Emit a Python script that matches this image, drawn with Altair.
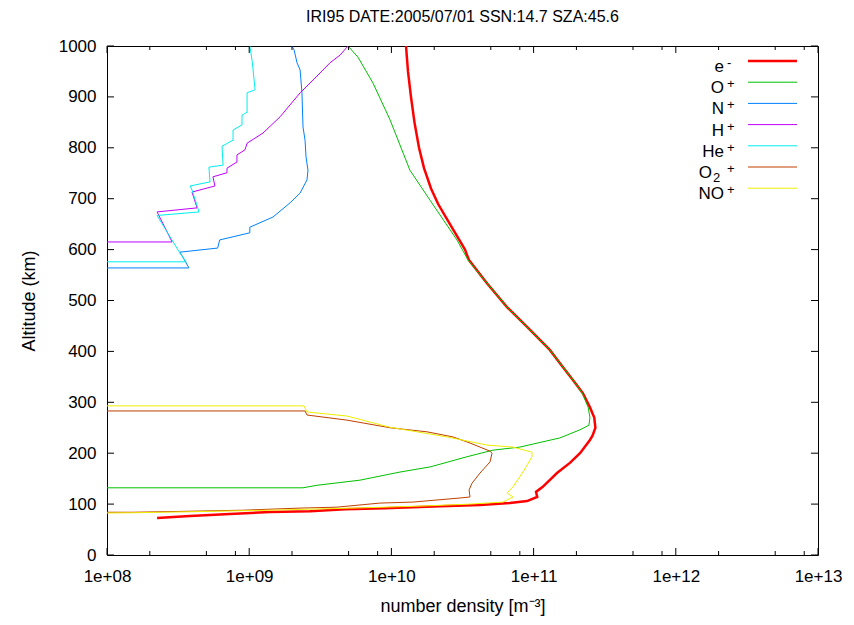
import altair as alt
import pandas as pd

FONT = "Liberation Sans"

# ---- data (altitude km, number density m^-3) ----
E_ALT = [1000, 950, 900, 850, 800, 760, 720, 690, 660, 630, 600, 580, 534, 487, 448, 403,
         369, 344, 318, 290, 270, 250, 235, 226, 200, 181, 161, 134, 124, 114, 106, 102,
         98, 96, 92, 90, 86, 84.5, 80.6, 76.6, 72.7]
E_DEN = [1.267e10, 1.308e10, 1.373e10, 1.453e10, 1.564e10, 1.696e10, 1.899e10, 2.127e10,
         2.46e10, 2.847e10, 3.293e10, 3.5e10, 4.7e10, 6.5e10, 9.0e10, 1.30e11, 1.61e11,
         1.89e11, 2.22e11, 2.49e11, 2.67e11, 2.72e11, 2.60e11, 2.49e11, 2.12e11, 1.80e11,
         1.46e11, 1.16e11, 1.04e11, 1.06e11, 9.0e10, 6.8e10, 4.2e10, 2.2e10, 9.0e9, 4.72e9,
         2.68e9, 1.40e9, 7.3e8, 3.84e8, 2.25e8]

OP_ALT = [1000, 978, 927, 855, 756, 697, 619, 580, 534, 487, 448, 403, 369, 344, 318, 290,
          270, 255, 246, 230, 212, 206, 193, 173, 163, 147, 137, 132, 132]
OP_DEN = [4.95e9, 5.82e9, 7.43e9, 9.78e9, 1.35e10, 1.87e10, 2.89e10, 3.45e10, 4.7e10, 6.5e10,
          9.0e10, 1.30e11, 1.61e11, 1.89e11, 2.20e11, 2.42e11, 2.49e11, 2.45e11, 2.12e11,
          1.53e11, 8.0e10, 5.18e10, 3.40e10, 1.87e10, 1.15e10, 6.0e9, 3.0e9, 2.39e9, 1e8]

NP_ALT = [1000, 992, 967, 953, 908, 841, 815, 782, 756, 737, 711, 692, 664, 644, 633, 619,
          603, 595, 564, 564]
NP_DEN = [2.0e9, 2.07e9, 2.17e9, 2.28e9, 2.35e9, 2.39e9, 2.47e9, 2.51e9, 2.59e9, 2.55e9,
          2.28e9, 1.94e9, 1.47e9, 1.01e9, 1.01e9, 6.2e8, 6.0e8, 3.26e8, 3.77e8, 1e8]

HP_ALT = [1000, 982, 967, 933, 908, 861, 829, 809, 796, 786, 772, 760, 751, 743, 725, 713,
          682, 674, 615, 615]
HP_DEN = [4.95e9, 4.35e9, 3.70e9, 2.81e9, 2.28e9, 1.65e9, 1.25e9, 9.66e8, 9.34e8, 8.2e8,
          8.2e8, 6.98e8, 6.98e8, 5.56e8, 5.74e8, 3.96e8, 4.3e8, 2.25e8, 2.87e8, 1e8]

HE_ALT = [1000, 970, 914, 908, 870, 864, 845, 835, 815, 803, 766, 762, 733, 725, 717, 674,
          667, 593, 576, 576]
HE_DEN = [1.01e9, 1.05e9, 1.10e9, 9.66e8, 9.66e8, 8.9e8, 8.9e8, 7.7e8, 7.7e8, 6.44e8,
          6.55e8, 5.21e8, 5.3e8, 3.84e8, 3.96e8, 4.44e8, 2.25e8, 3.26e8, 3.60e8, 1e8]

O2_ALT = [283, 283, 275, 265, 250, 242, 232, 220, 204, 200, 183, 161, 141, 128, 114, 112,
          104, 102, 94, 92, 88, 86, 84, 84]
O2_DEN = [1e8, 2.47e9, 2.55e9, 4.87e9, 9.78e9, 1.78e10, 2.71e10, 3.57e10, 4.94e10, 5.1e10,
          4.94e10, 4.2e10, 3.69e10, 3.52e10, 3.57e10, 3.04e10, 1.42e10, 8.3e9, 4.14e9,
          2.17e9, 9.0e8, 3.84e8, 1.52e8, 1e8]

NO_ALT = [293, 293, 281, 273, 251, 232, 216, 212, 202, 193, 163, 134, 122, 114, 104, 100,
          96, 92, 88, 85, 83, 82.5]
NO_DEN = [1e8, 2.43e9, 2.55e9, 4.87e9, 9.78e9, 2.46e10, 4.70e10, 7.16e10, 9.74e10, 9.74e10,
          8.42e10, 7.16e10, 6.5e10, 7.16e10, 6.1e10, 3.57e10, 1.59e10, 5.1e9, 1.4e9, 3.84e8,
          1.52e8, 1e8]

NAMES = ["e-", "O+", "N+", "H+", "He+", "O2+", "NO+"]
LEG_BASE = ["e", "O", "N", "H", "He", "O", "NO"]
LEG_SUP = ["-", "+", "+", "+", "+", "+", "+"]
LEG_SUB = ["", "", "", "", "", "2", ""]
COLORS = ["#ff0000", "#00c000", "#0080ff", "#c000ff", "#00eeee", "#c04000", "#eeee00"]
WIDTHS = [2.5, 1, 1, 1, 1, 1, 1]
SERIES = [(E_ALT, E_DEN), (OP_ALT, OP_DEN), (NP_ALT, NP_DEN), (HP_ALT, HP_DEN),
          (HE_ALT, HE_DEN), (O2_ALT, O2_DEN), (NO_ALT, NO_DEN)]

Y_TICKS = list(range(0, 1001, 100))
X_MAJOR = [1e8, 1e9, 1e10, 1e11, 1e12, 1e13]
X_MINOR = [m * 10.0 ** e for e in range(8, 13) for m in (2, 5, 8)]

W, H = 711, 509

xs = alt.Scale(type="log", domain=[1e8, 1e13], nice=False)
ys = alt.Scale(domain=[0, 1000], nice=False, zero=False)

xaxis = alt.Axis(values=X_MAJOR, ticks=False, domain=False, grid=False,
                 labelExpr="'1e+' + (round(log(datum.value)/LN10) < 10 ? '0' : '') + round(log(datum.value)/LN10)",
                 title="number density [m\u207b\u00b3]", labelFont=FONT, titleFont=FONT,
                 labelFontSize=17, titleFontSize=18, labelPadding=13, titlePadding=13,
                 labelColor="black", titleColor="black", titleFontWeight="normal",
                 labelFlush=False, labelOverlap=False)
yaxis = alt.Axis(values=Y_TICKS, format="d", ticks=False, domain=False, grid=False,
                 title="Altitude (km)", labelFont=FONT, titleFont=FONT,
                 labelFontSize=17, titleFontSize=18, labelPadding=11, titlePadding=20,
                 labelColor="black", titleColor="black", titleFontWeight="normal",
                 labelFlush=False, labelOverlap=False)

X = alt.X("dens:Q", scale=xs, axis=xaxis)
Y = alt.Y("alt:Q", scale=ys, axis=yaxis)

layers = []
for name, (a, d), c, w in zip(NAMES, SERIES, COLORS, WIDTHS):
    df = pd.DataFrame({"alt": a, "dens": d, "i": range(len(a))})
    layers.append(alt.Chart(df).mark_line(color=c, strokeWidth=w, clip=True)
                  .encode(x=X, y=Y, order="i:Q"))

ydf = pd.DataFrame({"alt": Y_TICKS})
layers.append(alt.Chart(ydf).mark_rule(color="black").encode(y=Y, x=alt.value(0), x2=alt.value(7)))
layers.append(alt.Chart(ydf).mark_rule(color="black").encode(y=Y, x=alt.value(W - 7), x2=alt.value(W)))
xmaj = pd.DataFrame({"dens": X_MAJOR})
xmin = pd.DataFrame({"dens": X_MINOR})
layers.append(alt.Chart(xmaj).mark_rule(color="black").encode(x=X, y=alt.value(H - 7), y2=alt.value(H)))
layers.append(alt.Chart(xmaj).mark_rule(color="black").encode(x=X, y=alt.value(0), y2=alt.value(7)))
layers.append(alt.Chart(xmin).mark_rule(color="black").encode(x=X, y=alt.value(H - 4), y2=alt.value(H)))
layers.append(alt.Chart(xmin).mark_rule(color="black").encode(x=X, y=alt.value(0), y2=alt.value(4)))

main = alt.layer(*layers)

# ---- key (top right, gnuplot style: label then sample line) ----
leg = pd.DataFrame({"ion": NAMES, "base": LEG_BASE, "sup": LEG_SUP, "sub": LEG_SUB,
                    "idx": range(len(NAMES)), "w": WIDTHS})
leg_base = alt.Chart(leg).transform_calculate(
    ly="15 + 21.2 * datum.idx",
    bx="datum.sub == '' ? 617 : 605")
LY = alt.Y("ly:Q", scale=None, axis=None)
col = alt.Color("ion:N", scale=alt.Scale(domain=NAMES, range=COLORS), legend=None)
t_base = leg_base.mark_text(align="right", baseline="alphabetic", dy=11, font=FONT,
                            fontSize=17, color="black").encode(
    x=alt.X("bx:Q", scale=None, axis=None), y=LY, text="base:N")
t_sup = leg_base.mark_text(align="left", baseline="alphabetic", dy=6, font=FONT,
                           fontSize=13, color="black").encode(
    x=alt.value(620), y=LY, text="sup:N")
t_sub = leg_base.transform_filter("datum.sub != ''").mark_text(
    align="left", baseline="alphabetic", dy=15, font=FONT, fontSize=13, color="black").encode(
    x=alt.value(606), y=LY, text="sub:N")
leg_line = leg_base.mark_rule().encode(
    x=alt.value(641), x2=alt.value(690), y=LY,
    color=col, strokeWidth=alt.StrokeWidth("w:Q", scale=None))
legend = alt.layer(t_base, t_sup, t_sub, leg_line)

chart = alt.layer(main, legend).resolve_scale(x="independent", y="independent").properties(
    width=W, height=H,
    autosize=alt.AutoSizeParams(type="none"),
    padding={"left": 99, "top": 38, "right": 26, "bottom": 61},
    title=alt.TitleParams("IRI95 DATE:2005/07/01 SSN:14.7 SZA:45.6", font=FONT, fontSize=16,
                          fontWeight="normal", color="black", anchor="middle", frame="group",
                          offset=12),
    background="white",
).configure_view(stroke="black", strokeWidth=1)

chart.save("out.html", embed_options={"renderer": "svg", "actions": False})
